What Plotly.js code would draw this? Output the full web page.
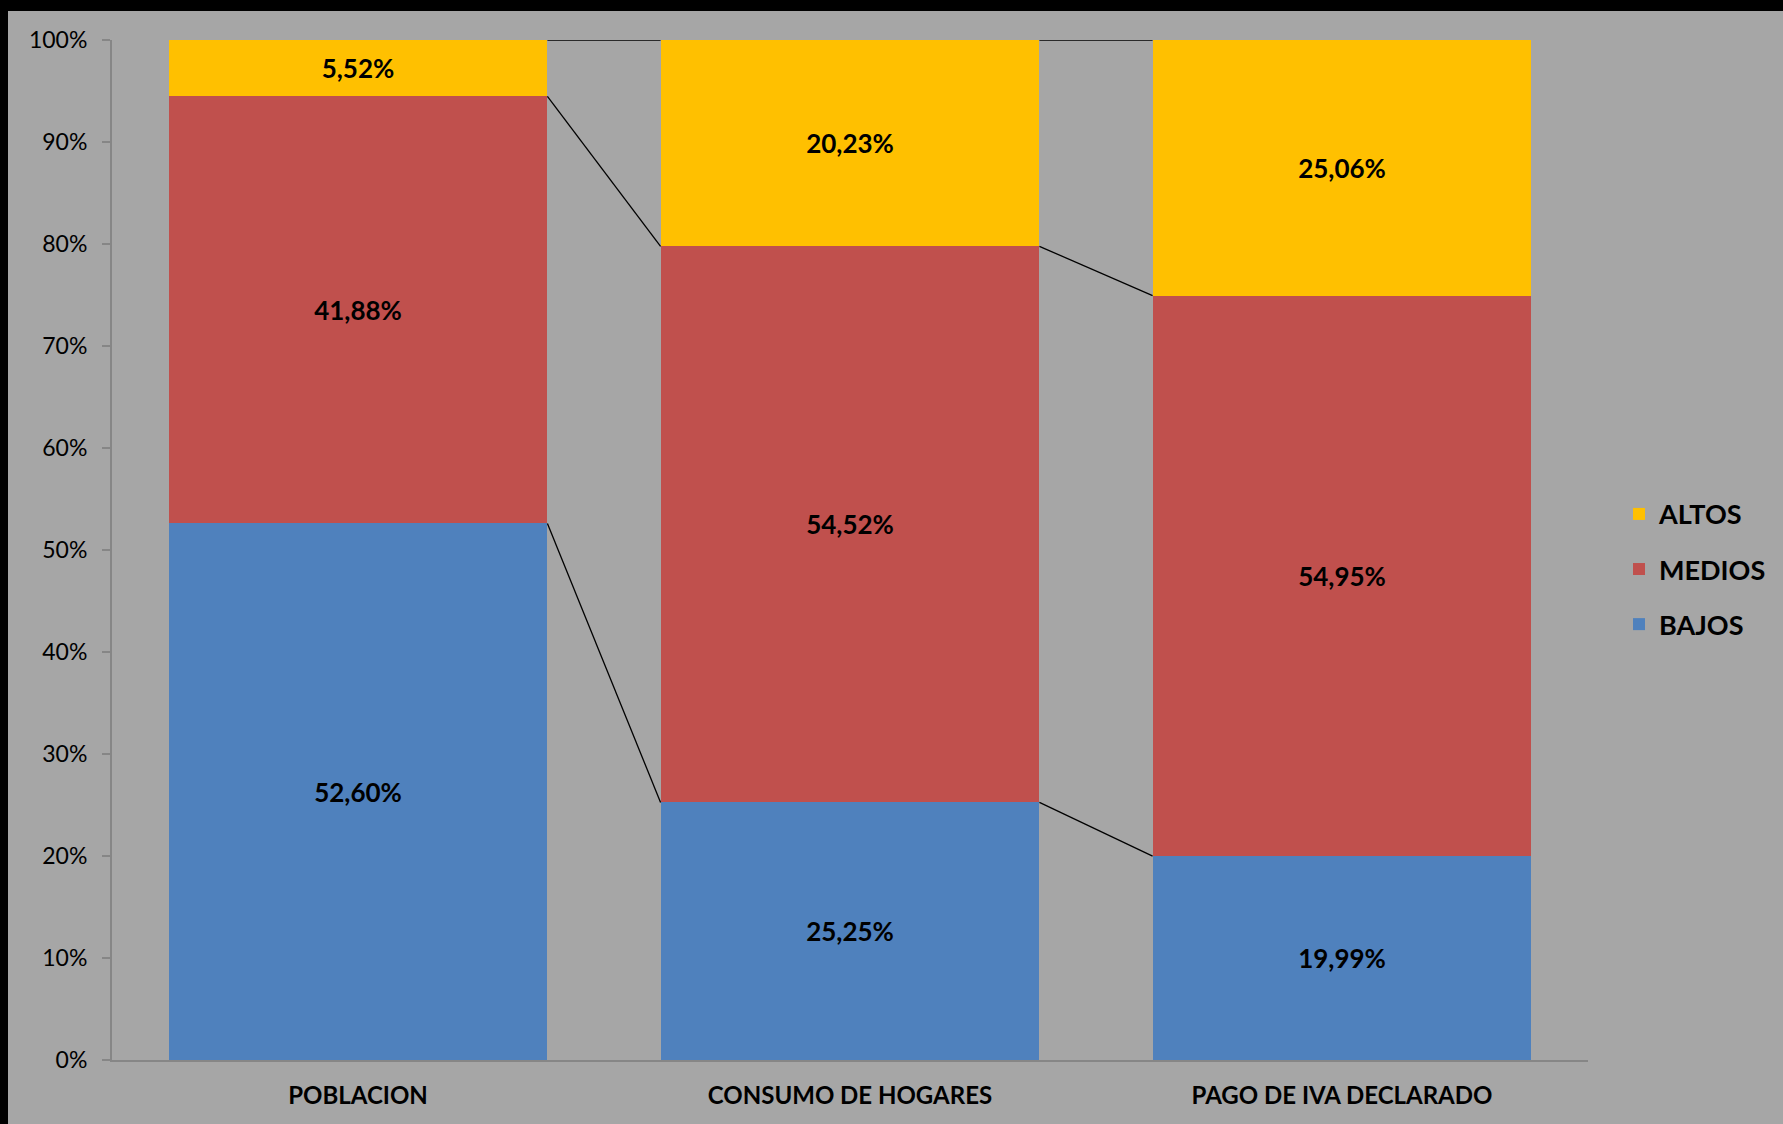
<!DOCTYPE html>
<html>
<head>
<meta charset="utf-8">
<script src="https://cdn.plot.ly/plotly-3.0.1.min.js"></script>
<style>
  html, body { margin: 0; padding: 0; background: #000000; overflow: hidden; }
  #chart { position: absolute; left: 8px; top: 11px; width: 1775px; height: 1113px; }
</style>
</head>
<body>
<div id="chart"></div>
<script>
const categories = ["POBLACION", "CONSUMO DE HOGARES", "PAGO DE IVA DECLARADO"];
const bajos  = [52.60, 25.25, 19.99];
const medios = [41.88, 54.52, 54.95];
const altos  = [5.52, 20.23, 25.06];
const yTicks = [0, 10, 20, 30, 40, 50, 60, 70, 80, 90, 100];
const yTickLabels = ["0%", "10%", "20%", "30%", "40%", "50%", "60%", "70%", "80%", "90%", "100%"];

const xPos = categories.map((c, i) => i);
const barWidth = 0.77;
const fmt = v => v.toFixed(2).replace('.', ',') + '%';

function barTrace(name, vals, color, rank) {
  return {
    type: 'bar', name: name, x: xPos, y: vals, width: barWidth,
    marker: { color: color, line: { width: 0 } },
    text: vals.map(fmt), textposition: 'inside', insidetextanchor: 'middle',
    textangle: 0, constraintext: 'none',
    textfont: { family: 'Lato, sans-serif', size: 26, color: '#000000', weight: 'bold' },
    hoverinfo: 'name+y', legendgroup: name, legendrank: rank
  };
}

// series lines connecting stacked segment tops between bars
const levels = [
  bajos,
  bajos.map((v, i) => v + medios[i]),
  bajos.map((v, i) => v + medios[i] + altos[i])
];
const lx = [], ly = [];
levels.forEach(lv => {
  for (let i = 0; i < xPos.length - 1; i++) {
    lx.push(xPos[i] + barWidth / 2, xPos[i + 1] - barWidth / 2, null);
    ly.push(lv[i], lv[i + 1], null);
  }
});

const traces = [
  barTrace('BAJOS', bajos, '#4F81BD', 3),
  barTrace('MEDIOS', medios, '#C0504D', 2),
  barTrace('ALTOS', altos, '#FFC000', 1),
  { type: 'scatter', mode: 'lines', x: lx, y: ly, line: { color: '#000000', width: 1.3 },
    showlegend: false, hoverinfo: 'skip' }
];

const layout = {
  barmode: 'stack',
  paper_bgcolor: '#A6A6A6',
  plot_bgcolor: '#A6A6A6',
  margin: { l: 104, r: 186, t: 29, b: 64 },
  showlegend: true,
  legend: {
    x: 1.021, y: 0.481, xanchor: 'left', yanchor: 'middle',
    traceorder: 'grouped', tracegroupgap: 17,
    font: { family: 'Lato, sans-serif', size: 27, color: '#000000', weight: 'bold' },
    bgcolor: 'rgba(0,0,0,0)', itemwidth: 30
  },
  xaxis: {
    range: [-0.5, 2.5], tickvals: xPos, ticktext: categories,
    showline: true, linecolor: '#868686', linewidth: 2, ticks: '', showgrid: false,
    zeroline: false, ticklabelstandoff: 13,
    tickfont: { family: 'Lato, sans-serif', size: 24, color: '#000000', weight: 'bold' }
  },
  yaxis: {
    range: [0, 100], tickvals: yTicks, ticktext: yTickLabels,
    showline: true, linecolor: '#868686', linewidth: 2, ticks: 'outside', ticklen: 8,
    tickcolor: '#868686', tickwidth: 2, showgrid: false, zeroline: false,
    ticklabelstandoff: 10,
    tickfont: { family: 'Lato, sans-serif', size: 23, color: '#000000' }
  }
};

Plotly.newPlot('chart', traces, layout, { displayModeBar: false, responsive: false });
</script>
</body>
</html>
